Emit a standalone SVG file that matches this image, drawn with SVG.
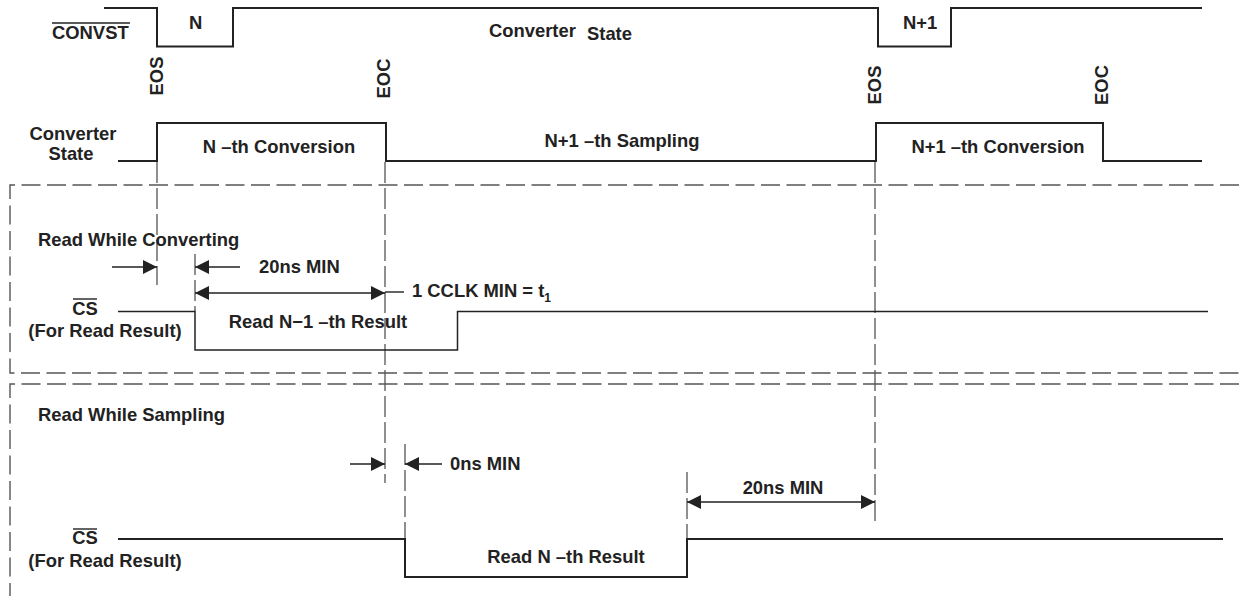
<svg xmlns="http://www.w3.org/2000/svg" width="1239" height="596" viewBox="0 0 1239 596">
<style>
text{font-family:"Liberation Sans",Arial,sans-serif;font-weight:bold;font-size:18.4px;fill:#222}
.m{text-anchor:middle}
.w{fill:none;stroke:#222;stroke-width:2}
.wt{fill:none;stroke:#222;stroke-width:1.5}
.box{fill:none;stroke:#555;stroke-width:1.4;stroke-dasharray:19 6.5}
.vd{fill:none;stroke:#555;stroke-width:1.3;stroke-dasharray:21 5}
.ar{fill:none;stroke:#222;stroke-width:1.4}
.ol{stroke:#222;stroke-width:1.4}
</style>
<defs>
<marker id="ah" viewBox="0 0 14 14" refX="14" refY="7" markerWidth="14" markerHeight="14" markerUnits="userSpaceOnUse" orient="auto-start-reverse">
<path d="M0,0 L14,7 L0,14 z" fill="#222"/>
</marker>
</defs>

<g id="frames">
<path class="box" d="M1239,185 H10 V373 H1239"/>
<path class="box" d="M1239,384 H10 V596"/>
</g>

<g id="convst">
<path class="w" d="M104,8 H157 V46.5 H233 V8 H878 V46.5 H951 V8 H1202"/>
<line class="ol" x1="52" y1="23" x2="130" y2="23"/>
<text x="52" y="39">CONVST</text>
<text x="189" y="29">N</text>
<text x="903" y="29">N+1</text>
<text x="489" y="37">Converter</text>
<text x="587" y="40">State</text>
</g>

<g id="markers-text">
<text class="m" transform="translate(163,76) rotate(-90)">EOS</text>
<text class="m" transform="translate(390,78.5) rotate(-90)">EOC</text>
<text class="m" transform="translate(881,85) rotate(-90)">EOS</text>
<text class="m" transform="translate(1108,85) rotate(-90)">EOC</text>
</g>

<g id="converter-state">
<path class="w" d="M118,161 H157 V123 H386 V161 H876 V123 H1103 V161 H1202"/>
<text class="m" x="73" y="140">Converter</text>
<text class="m" x="71" y="160">State</text>
<text class="m" x="279" y="153">N –th Conversion</text>
<text class="m" x="622" y="147">N+1 –th Sampling</text>
<text class="m" x="998" y="153">N+1 –th Conversion</text>
</g>

<g id="connectors">
<line class="vd" x1="157" y1="162" x2="157" y2="285"/>
<line class="vd" x1="385" y1="162" x2="385" y2="483"/>
<line class="vd" x1="875" y1="162" x2="875" y2="523"/>
<line class="vd" x1="195" y1="254" x2="195" y2="311"/>
<line class="vd" x1="405" y1="444" x2="405" y2="538"/>
<line class="vd" x1="687" y1="472" x2="687" y2="538"/>
<line class="ar" x1="112" y1="267" x2="157" y2="267" marker-end="url(#ah)"/>
<line class="ar" x1="240" y1="267" x2="195" y2="267" marker-end="url(#ah)"/>
<line class="ar" x1="195" y1="293" x2="385" y2="293" marker-start="url(#ah)" marker-end="url(#ah)"/>
<line class="ar" x1="385" y1="292" x2="404" y2="292"/>
<line class="ar" x1="350" y1="464" x2="385" y2="464" marker-end="url(#ah)"/>
<line class="ar" x1="442" y1="464" x2="405" y2="464" marker-end="url(#ah)"/>
<line class="ar" x1="687" y1="502" x2="875" y2="502" marker-start="url(#ah)" marker-end="url(#ah)"/>
</g>

<g id="read-while-converting">
<text x="38" y="246">Read While Converting</text>
<text x="259" y="273">20ns MIN</text>
<text x="412" y="297">1 CCLK MIN = t<tspan font-size="12" dy="5">1</tspan></text>
<path class="wt" d="M118,311.5 H195 V350 H457.5 V311.5 H1208"/>
<line class="ol" x1="73" y1="299" x2="97" y2="299"/>
<text class="m" x="85" y="315">CS</text>
<text class="m" x="105" y="337">(For Read Result)</text>
<text class="m" x="318" y="328">Read N−1 –th Result</text>
</g>

<g id="read-while-sampling">
<text x="38" y="421">Read While Sampling</text>
<text x="450" y="470">0ns MIN</text>
<text class="m" x="783" y="494">20ns MIN</text>
<path class="w" d="M118,539 H405 V577 H687 V539 H1223"/>
<line class="ol" x1="73" y1="529" x2="97" y2="529"/>
<text class="m" x="85" y="544">CS</text>
<text class="m" x="105" y="567">(For Read Result)</text>
<text class="m" x="566" y="563">Read N –th Result</text>
</g>
</svg>
